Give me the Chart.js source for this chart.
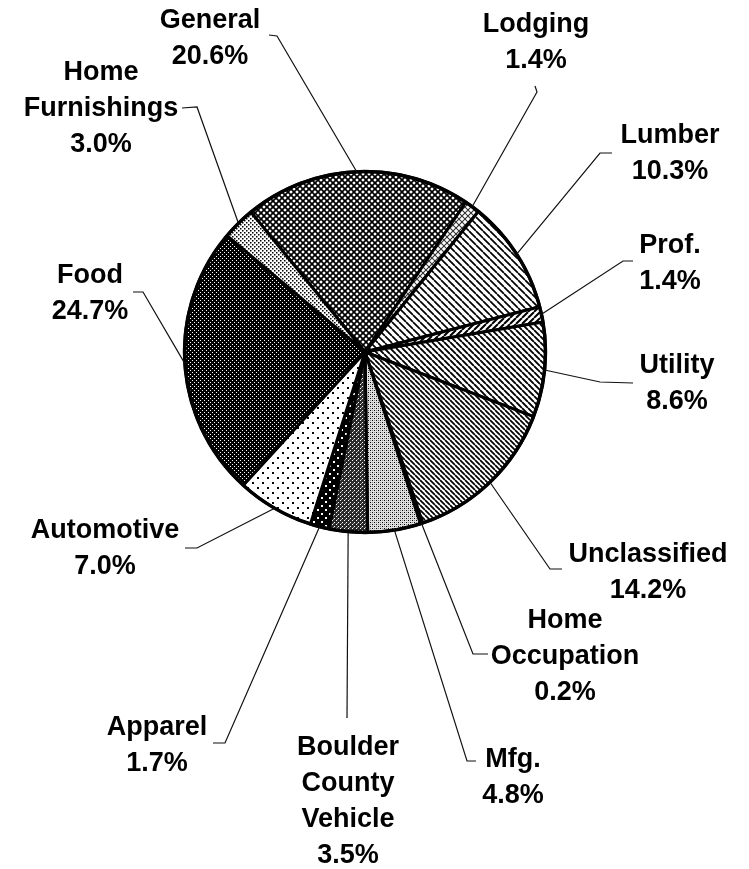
<!DOCTYPE html>
<html>
<head>
<meta charset="utf-8">
<script src="https://cdn.jsdelivr.net/npm/chart.js@4.4.1/dist/chart.umd.min.js"></script>
<style>
  html, body { margin: 0; padding: 0; background: #fff; }
  canvas { display: block; }
</style>
</head>
<body>
<canvas id="salesPie" width="749" height="869"></canvas>
<script>
// Data
const categories = ['General', 'Lodging', 'Lumber', 'Prof.', 'Utility', 'Unclassified', 'Home Occupation',
    'Mfg.', 'Boulder County Vehicle', 'Apparel', 'Automotive', 'Food', 'Home Furnishings'];
const shares = [20.6, 1.4, 10.3, 1.4, 8.6, 14.2, 0.2, 4.8, 3.5, 1.7, 7.0, 24.7, 3.0];
const nameLines = [['General'], ['Lodging'], ['Lumber'], ['Prof.'], ['Utility'], ['Unclassified'], ['Home', 'Occupation'],
    ['Mfg.'], ['Boulder', 'County', 'Vehicle'], ['Apparel'], ['Automotive'], ['Food'], ['Home', 'Furnishings']];

// Label layout: text centre x, first baseline y, leader points from text towards the slice
const labelPos = [
    { x: 210, y: 28,  lead: [[269, 35], [277, 36]] },
    { x: 536, y: 32,  lead: [[535, 86], [537, 92]] },
    { x: 670, y: 143, lead: [[612, 153], [600, 153]] },
    { x: 670, y: 253, lead: [[633, 261], [623, 261]] },
    { x: 677, y: 373, lead: [[633, 383], [600, 382]] },
    { x: 648, y: 562, lead: [[562, 569], [550, 569]] },
    { x: 565, y: 628, lead: [[488, 654], [473, 654]] },
    { x: 513, y: 767, lead: [[476, 761], [467, 761]] },
    { x: 348, y: 755, lead: [[347, 718]] },
    { x: 157, y: 735, lead: [[213, 743], [225, 743]] },
    { x: 105, y: 538, lead: [[185, 548], [197, 548]] },
    { x: 90,  y: 283, lead: [[133, 292], [143, 292]] },
    { x: 101, y: 80,  lead: [[182, 108], [197, 107]] }
];

const canvas = document.getElementById('salesPie');
const ctx = canvas.getContext('2d');

// Small tiles for the black & white fills
function tile(size, bg, draw) {
    const c = document.createElement('canvas');
    c.width = c.height = size;
    const g = c.getContext('2d');
    g.fillStyle = bg;
    g.fillRect(0, 0, size, size);
    draw(g, size);
    return ctx.createPattern(c, 'repeat');
}
function diag(g, s, w, color, dir) {
    g.strokeStyle = color;
    g.lineWidth = w;
    g.beginPath();
    for (let x0 = -s; x0 <= s; x0 += s) {
        if (dir > 0) { g.moveTo(x0, 0); g.lineTo(x0 + s, s); }
        else { g.moveTo(x0, s); g.lineTo(x0 + s, 0); }
    }
    g.stroke();
}
function px(g, color, pts, d) {
    g.fillStyle = color;
    pts.forEach(p => g.fillRect(p[0], p[1], d || 1, d || 1));
}

const fills = [
    tile(6, '#fff', (g, s) => { diag(g, s, 1.7, '#000', 1); diag(g, s, 1.7, '#000', -1); }),  // General
    tile(6, '#fff', (g, s) => { diag(g, s, 1.1, '#333', 1); diag(g, s, 1.1, '#333', -1); }),  // Lodging
    tile(7, '#fff', (g, s) => diag(g, s, 1.7, '#000', 1)),                                     // Lumber
    tile(6, '#fff', (g, s) => diag(g, s, 2, '#000', -1)),                                      // Prof.
    tile(6, '#fff', (g, s) => diag(g, s, 1.9, '#000', 1)),                                     // Utility
    tile(5, '#fff', (g, s) => diag(g, s, 1.7, '#000', 1)),                                     // Unclassified
    tile(3, '#000', (g, s) => px(g, '#fff', [[0, 1], [1, 1]])),                                // Home Occupation
    tile(4, '#e0e0e0', (g, s) => { px(g, '#000', [[0, 0], [2, 2]]); px(g, '#888', [[2, 0], [0, 2]]); }), // Mfg.
    tile(4, '#2a2a2a', (g, s) => { px(g, '#fff', [[0, 0], [2, 2]]); px(g, '#999', [[1, 3]]); }),        // Boulder County Vehicle
    tile(8, '#000', (g, s) => px(g, '#fff', [[1, 1], [5, 5]], 2)),                             // Apparel
    tile(10, '#fff', (g, s) => px(g, '#000', [[2, 2], [7, 7]], 2)),                            // Automotive
    tile(4, '#000', (g, s) => px(g, '#fff', [[0, 0], [2, 2]])),                                // Food
    tile(4, '#fff', (g, s) => px(g, '#000', [[0, 0], [2, 2]], 1.5))                            // Home Furnishings
];

const FONT = 'bold 27px "Liberation Sans", Arial, sans-serif';
const LINE_H = 36;

const labelPlugin = {
    id: 'leaderLabels',
    afterDraw(chart) {
        const c = chart.ctx;
        const arcs = chart.getDatasetMeta(0).data;
        c.save();
        // heavy outer ring
        const a0 = arcs[0];
        c.beginPath();
        c.arc(a0.x, a0.y, a0.outerRadius, 0, Math.PI * 2);
        c.lineWidth = 3.5;
        c.strokeStyle = '#000';
        c.stroke();

        arcs.forEach((arc, i) => {
            const p = labelPos[i];
            const mid = (arc.startAngle + arc.endAngle) / 2;
            const ex = arc.x + Math.cos(mid) * arc.outerRadius;
            const ey = arc.y + Math.sin(mid) * arc.outerRadius;
            c.beginPath();
            c.moveTo(p.lead[0][0], p.lead[0][1]);
            for (let k = 1; k < p.lead.length; k++) c.lineTo(p.lead[k][0], p.lead[k][1]);
            c.lineTo(ex, ey);
            c.lineWidth = 1.2;
            c.strokeStyle = '#111';
            c.stroke();

            const lines = nameLines[i].concat([shares[i].toFixed(1) + '%']);
            c.font = FONT;
            c.fillStyle = '#000';
            c.textAlign = 'center';
            c.textBaseline = 'alphabetic';
            lines.forEach((t, k) => c.fillText(t, p.x, p.y + k * LINE_H));
        });
        c.restore();
    }
};

new Chart(ctx, {
    type: 'pie',
    data: {
        labels: categories,
        datasets: [{ data: shares, backgroundColor: fills, borderColor: '#000', borderWidth: 3 }]
    },
    options: {
        responsive: false,
        animation: false,
        rotation: -39.2,
        layout: { padding: { left: 183, right: 202, top: 170, bottom: 335 } },
        plugins: { legend: { display: false }, tooltip: { enabled: false } }
    },
    plugins: [labelPlugin]
});
</script>
</body>
</html>
